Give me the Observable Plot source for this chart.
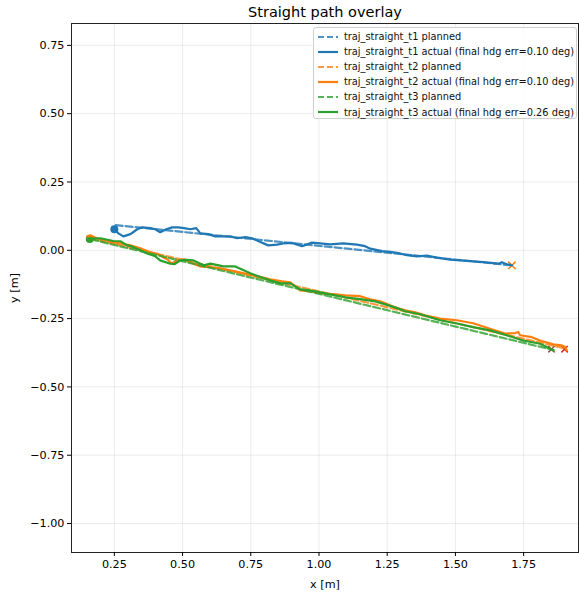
<!DOCTYPE html>
<html>
<head>
<meta charset="utf-8">
<script src="https://cdn.jsdelivr.net/npm/d3@7"></script>
<script src="https://cdn.jsdelivr.net/npm/@observablehq/plot@0.6"></script>
<style>
  html, body { margin: 0; padding: 0; background: #fff; }
  #wrap { position: relative; width: 579px; height: 593px; font-family: "DejaVu Sans", sans-serif; }
  #wrap svg g[aria-label*="axis"], #wrap svg g[aria-label*="axis"] text { font-size: 11.2px !important; font-family: "DejaVu Sans", sans-serif; }
  #legend { position: absolute; left: 313px; top: 27px; width: 264px; height: 92px;
    border: 1px solid #d0d0d0; border-radius: 3px; background: rgba(255,255,255,0.85);
    box-sizing: border-box; padding-top: 1px; }
  .row { height: 15.1px; display: flex; align-items: center; font-size: 9.8px; color: #111; white-space: nowrap; }
  .row svg { margin-left: 4px; margin-right: 6px; }
</style>
</head>
<body>
<div id="wrap"></div>
<script>
const titleText = "Straight path overlay";
const xLabel = "x [m]";
const yLabel = "y [m]";
const xTicks = [0.25, 0.5, 0.75, 1.0, 1.25, 1.5, 1.75];
const yTicks = [0.75, 0.5, 0.25, 0.0, -0.25, -0.5, -0.75, -1.0];
const xDomain = [0.093, 1.951];
const yDomain = [-1.106, 0.83];

const seriesNames = ["traj_straight_t1", "traj_straight_t2", "traj_straight_t3"];
const hdgErr = ["0.10", "0.10", "0.26"];
const colors = ["#1f77b4", "#ff7f0e", "#2ca02c"];
const markerColors = ["#1f77b4", "#ff7f0e", "#2ca02c", "#d62728", "#9467bd", "#8c564b"];

const t1Planned = [[0.255, 0.092], [1.705, -0.055]];
const t2Planned = [[0.155, 0.045], [1.905, -0.360]];
const t3Planned = [[0.165, 0.040], [1.860, -0.365]];

const t1Actual = [
  [0.250,0.077],[0.265,0.062],[0.283,0.051],[0.309,0.059],[0.334,0.077],[0.353,0.084],
  [0.382,0.081],[0.400,0.077],[0.418,0.066],[0.440,0.077],[0.462,0.084],[0.484,0.084],
  [0.506,0.081],[0.528,0.077],[0.550,0.081],[0.565,0.062],[0.594,0.059],[0.620,0.051],
  [0.646,0.051],[0.675,0.051],[0.700,0.044],[0.730,0.048],[0.755,0.044],[0.785,0.030],
  [0.814,0.018],[0.846,0.021],[0.869,0.025],[0.901,0.027],[0.938,0.015],[0.974,0.028],
  [1.005,0.025],[1.041,0.022],[1.089,0.025],[1.139,0.021],[1.169,0.015],[1.188,0.006],
  [1.231,-0.003],[1.261,-0.006],[1.291,-0.010],[1.322,-0.018],[1.359,-0.022],[1.395,-0.019],
  [1.432,-0.027],[1.481,-0.034],[1.542,-0.039],[1.603,-0.043],[1.658,-0.049],[1.670,-0.044],
  [1.688,-0.051],[1.707,-0.055]
];
const t2Actual = [
  [0.151,0.051],[0.162,0.055],[0.187,0.043],[0.246,0.030],[0.309,0.018],[0.345,0.007],
  [0.382,-0.007],[0.407,-0.013],[0.430,-0.026],[0.444,-0.033],[0.459,-0.048],[0.481,-0.037],
  [0.506,-0.033],[0.528,-0.044],[0.565,-0.059],[0.600,-0.062],[0.638,-0.066],[0.693,-0.077],
  [0.741,-0.088],[0.792,-0.099],[0.821,-0.106],[0.865,-0.114],[0.895,-0.117],[0.931,-0.147],
  [0.968,-0.150],[1.005,-0.158],[1.060,-0.161],[1.096,-0.165],[1.151,-0.168],[1.188,-0.179],
  [1.224,-0.187],[1.243,-0.194],[1.279,-0.209],[1.316,-0.220],[1.353,-0.227],[1.389,-0.238],
  [1.444,-0.250],[1.505,-0.256],[1.565,-0.267],[1.627,-0.287],[1.682,-0.305],[1.719,-0.303],
  [1.730,-0.299],[1.737,-0.311],[1.780,-0.318],[1.810,-0.330],[1.858,-0.344],[1.890,-0.348],
  [1.902,-0.354],[1.908,-0.366]
];
const t3Actual = [
  [0.155,0.044],[0.174,0.043],[0.199,0.044],[0.247,0.034],[0.272,0.033],[0.297,0.018],
  [0.312,0.015],[0.333,0.006],[0.370,-0.012],[0.400,-0.022],[0.418,-0.037],[0.455,-0.049],
  [0.470,-0.051],[0.492,-0.037],[0.514,-0.035],[0.540,-0.037],[0.577,-0.055],[0.602,-0.049],
  [0.650,-0.059],[0.693,-0.059],[0.724,-0.073],[0.748,-0.084],[0.785,-0.098],[0.821,-0.110],
  [0.858,-0.121],[0.895,-0.121],[0.931,-0.143],[0.968,-0.147],[1.005,-0.154],[1.060,-0.165],
  [1.096,-0.172],[1.151,-0.179],[1.206,-0.187],[1.243,-0.198],[1.279,-0.209],[1.316,-0.223],
  [1.371,-0.234],[1.444,-0.256],[1.505,-0.268],[1.565,-0.281],[1.627,-0.293],[1.688,-0.311],
  [1.748,-0.330],[1.810,-0.342],[1.847,-0.360],[1.858,-0.366]
];

// start (circle) and end (x) markers, drawn beneath the lines
const startMarkers = [[0.250, 0.077, 0], [0.160, 0.041, 2]];
const endMarkers = [[1.707, -0.055, 1], [1.900, -0.362, 3], [1.852, -0.362, 5]];
const endSizes = [4, 3, 3];

const planned = [t1Planned, t2Planned, t3Planned];
const actual = [t1Actual, t2Actual, t3Actual];

const marks = [
  Plot.gridX(xTicks, {stroke: "#b0b0b0", strokeOpacity: 0.3, strokeWidth: 0.8}),
  Plot.gridY(yTicks, {stroke: "#b0b0b0", strokeOpacity: 0.3, strokeWidth: 0.8}),
  Plot.dot(startMarkers, {x: d => d[0], y: d => d[1], r: 4, fill: d => markerColors[d[2]], stroke: "none"}),
  Plot.dot(endMarkers, {x: d => d[0], y: d => d[1], r: (d, i) => endSizes[i], symbol: "times",
    stroke: d => markerColors[d[2]], strokeWidth: 1.5})
];
for (let i = 0; i < 3; i++) {
  marks.push(Plot.line(planned[i], {x: d => d[0], y: d => d[1], stroke: colors[i], strokeWidth: 2.2,
    strokeDasharray: "7,3", strokeOpacity: 0.8}));
  marks.push(Plot.line(actual[i], {x: d => d[0], y: d => d[1], stroke: colors[i], strokeWidth: 2.2,
    strokeLinejoin: "round"}));
}
marks.push(
  Plot.frame({stroke: "#222", strokeWidth: 1}),
  Plot.axisX(xTicks, {tickSize: 4, tickPadding: 4, tickFormat: d3.format(".2f"),
    label: xLabel, labelAnchor: "center", labelOffset: 35, labelArrow: "none"}),
  Plot.axisY(yTicks, {tickSize: 4, tickPadding: 3, tickFormat: d3.format(".2f"),
    label: yLabel, labelAnchor: "center", labelOffset: 61, labelArrow: "none"}),
  Plot.text([titleText], {text: d => d, frameAnchor: "top", lineAnchor: "middle", dy: -11, fontSize: 14.5, fill: "#000"})
);

const chart = Plot.plot({
  width: 579,
  height: 593,
  marginLeft: 71,
  marginRight: 1,
  marginTop: 23,
  marginBottom: 41,
  style: {fontFamily: "DejaVu Sans, sans-serif", fontSize: "11.2px", color: "#000", background: "#fff"},
  x: {domain: xDomain, label: null},
  y: {domain: yDomain, label: null},
  marks
});

const wrap = document.getElementById("wrap");
wrap.appendChild(chart);

// legend
const legend = document.createElement("div");
legend.id = "legend";
for (let i = 0; i < 3; i++) {
  const entries = [
    {text: `${seriesNames[i]} planned`, dash: "6,3", op: 0.8},
    {text: `${seriesNames[i]} actual (final hdg err=${hdgErr[i]} deg)`, dash: null, op: 1}
  ];
  for (const e of entries) {
    const row = document.createElement("div");
    row.className = "row";
    row.innerHTML = `<svg width="20" height="6"><line x1="0" x2="20" y1="3" y2="3" stroke="${colors[i]}" stroke-width="2.2" ${e.dash ? `stroke-dasharray="${e.dash}"` : ""} stroke-opacity="${e.op}"/></svg><span>${e.text}</span>`;
    legend.appendChild(row);
  }
}
wrap.appendChild(legend);
</script>
</body>
</html>
